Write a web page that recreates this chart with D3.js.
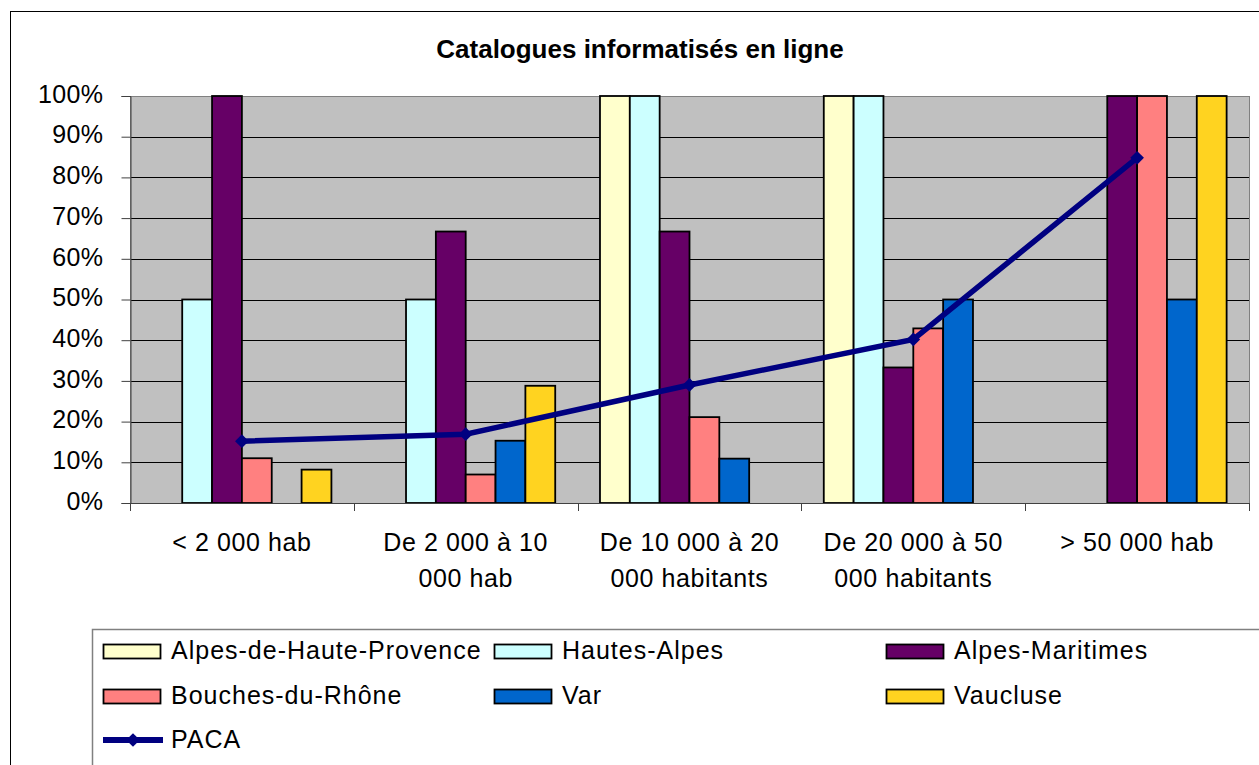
<!DOCTYPE html>
<html>
<head>
<meta charset="utf-8">
<script src="https://cdn.jsdelivr.net/npm/d3@7"></script>
<style>
  body { margin: 0; background: #fff; }
  svg { display: block; font-family: "Liberation Sans", Arial, sans-serif; }
</style>
</head>
<body>
<div id="chart"></div>
<script>
// data (percent)
var categories = ["< 2 000 hab", "De 2 000 à 10 000 hab", "De 10 000 à 20 000 habitants", "De 20 000 à 50 000 habitants", "> 50 000 hab"];
var categoryLines = [["< 2 000 hab"], ["De 2 000 à 10", "000 hab"], ["De 10 000 à 20", "000 habitants"], ["De 20 000 à 50", "000 habitants"], ["> 50 000 hab"]];
var seriesNames = ["Alpes-de-Haute-Provence", "Hautes-Alpes", "Alpes-Maritimes", "Bouches-du-Rhône", "Var", "Vaucluse"];
var seriesColors = ["#FFFFCC", "#CCFFFF", "#660066", "#FF8080", "#0066CC", "#FFD320"];
var alpesHauteProvence = [0, 0, 100, 100, 0];
var hautesAlpes = [50, 50, 100, 100, 0];
var alpesMaritimes = [100, 66.7, 66.7, 33.3, 100];
var bouchesDuRhone = [11, 7, 21.1, 42.9, 100];
var varDept = [0, 15.3, 10.9, 50, 50];
var vaucluse = [8.2, 28.8, 0, 0, 100];
var paca = [15.2, 16.9, 29, 40.2, 84.8];
var yTicks = [0, 10, 20, 30, 40, 50, 60, 70, 80, 90, 100];

var seriesValues = [alpesHauteProvence, hautesAlpes, alpesMaritimes, bouchesDuRhone, varDept, vaucluse];

var W = 1259, H = 765;
var plot = {left: 130, right: 1249, top: 96, bottom: 503};

var svg = d3.select("#chart").append("svg")
  .attr("width", W)
  .attr("height", H);

// outer chart frame
svg.append("rect")
  .attr("x", 10.5).attr("y", 11.5)
  .attr("width", 1270).attr("height", 800)
  .attr("fill", "#fff").attr("stroke", "#000").attr("stroke-width", 1);

svg.append("text")
  .attr("x", 640).attr("y", 58)
  .attr("text-anchor", "middle")
  .attr("font-size", "26px").attr("font-weight", "bold")
  .text("Catalogues informatisés en ligne");

var x0 = d3.scaleBand().domain(categories).range([plot.left, plot.right]).padding(0);
var x1 = d3.scaleBand().domain(seriesNames).range([0, x0.bandwidth()]).paddingInner(0).paddingOuter(0.75);
var y = d3.scaleLinear().domain([0, 100]).range([plot.bottom, plot.top]);

// plot background
svg.append("rect")
  .attr("x", plot.left).attr("y", plot.top)
  .attr("width", plot.right - plot.left).attr("height", plot.bottom - plot.top)
  .attr("fill", "#C0C0C0");

// gridlines
svg.append("g")
  .selectAll("line")
  .data(yTicks.filter(function(d){ return d > 0; }))
  .enter().append("line")
    .attr("x1", plot.left).attr("x2", plot.right)
    .attr("y1", function(d){ return Math.round(y(d)) + 0.5; })
    .attr("y2", function(d){ return Math.round(y(d)) + 0.5; })
    .attr("stroke", "#000").attr("stroke-width", 1);

// plot border
svg.append("rect")
  .attr("x", plot.left + 0.5).attr("y", plot.top + 0.5)
  .attr("width", plot.right - plot.left).attr("height", plot.bottom - plot.top)
  .attr("fill", "none").attr("stroke", "#808080").attr("stroke-width", 1);

// bars
var groups = svg.append("g")
  .selectAll("g")
  .data(categories)
  .enter().append("g")
    .attr("transform", function(d){ return "translate(" + x0(d) + ",0)"; });

groups.selectAll("rect")
  .data(function(c, i){
    return seriesNames.map(function(s, j){ return {s: s, v: seriesValues[j][i], color: seriesColors[j]}; })
      .filter(function(d){ return d.v > 0; });
  })
  .enter().append("rect")
    .attr("x", function(d){ return x1(d.s); })
    .attr("y", function(d){ return y(d.v); })
    .attr("width", x1.bandwidth())
    .attr("height", function(d){ return y(0) - y(d.v); })
    .attr("fill", function(d){ return d.color; })
    .attr("stroke", "#000").attr("stroke-width", 1.8);

// axes
var yAxis = svg.append("g")
  .attr("transform", "translate(" + (plot.left + 0.5) + ",0)")
  .call(d3.axisLeft(y).tickValues(yTicks).tickSize(9).tickPadding(18)
    .tickFormat(function(d){ return d + "%"; }));
yAxis.select(".domain").attr("stroke", "#404040");
yAxis.selectAll(".tick line").attr("stroke", "#404040");
yAxis.selectAll("text")
  .attr("font-size", "25px").attr("font-family", "Liberation Sans, Arial, sans-serif")
  .attr("fill", "#000").attr("dy", "0.25em").attr("letter-spacing", "0.4px");

var xAxis = svg.append("g");
xAxis.append("line")
  .attr("x1", plot.left).attr("x2", plot.right)
  .attr("y1", plot.bottom + 0.5).attr("y2", plot.bottom + 0.5)
  .attr("stroke", "#404040");
xAxis.selectAll("line.tk")
  .data(categories.concat(["end"]))
  .enter().append("line")
    .attr("class", "tk")
    .attr("x1", function(d){ return d === "end" ? plot.right + 0.5 : Math.round(x0(d)) + 0.5; })
    .attr("x2", function(d){ return d === "end" ? plot.right + 0.5 : Math.round(x0(d)) + 0.5; })
    .attr("y1", plot.bottom).attr("y2", plot.bottom + 8)
    .attr("stroke", "#404040");
xAxis.selectAll("text")
  .data(categories)
  .enter().append("text")
    .attr("x", function(d){ return x0(d) + x0.bandwidth() / 2; })
    .attr("y", 551)
    .attr("text-anchor", "middle")
    .attr("font-size", "25px").attr("letter-spacing", "0.6px")
    .each(function(d, i){
      var t = d3.select(this);
      categoryLines[i].forEach(function(line, k){
        t.append("tspan")
          .attr("x", x0(d) + x0.bandwidth() / 2)
          .attr("dy", k === 0 ? 0 : 36)
          .text(line);
      });
    });

// PACA line
var line = d3.line()
  .x(function(d, i){ return x0(categories[i]) + x0.bandwidth() / 2; })
  .y(function(d){ return y(d); });
svg.append("path")
  .datum(paca)
  .attr("d", line)
  .attr("fill", "none").attr("stroke", "#000080").attr("stroke-width", 5.5);
svg.append("g")
  .selectAll("path")
  .data(paca)
  .enter().append("path")
    .attr("d", d3.symbol().type(d3.symbolDiamond2).size(120))
    .attr("transform", function(d, i){ return "translate(" + (x0(categories[i]) + x0.bandwidth() / 2) + "," + y(d) + ")"; })
    .attr("fill", "#000080");

// legend
svg.append("rect")
  .attr("x", 92.5).attr("y", 629.5)
  .attr("width", 1200).attr("height", 200)
  .attr("fill", "#fff").attr("stroke", "#808080").attr("stroke-width", 1.5);

var colX = [103, 494, 886];
var rowBase = [659, 704, 748];
var legendItems = seriesNames.map(function(s, j){ return {name: s, color: seriesColors[j], col: j % 3, row: Math.floor(j / 3)}; });

var leg = svg.append("g").selectAll("g")
  .data(legendItems)
  .enter().append("g")
    .attr("transform", function(d){ return "translate(" + colX[d.col] + "," + rowBase[d.row] + ")"; });
leg.append("rect")
  .attr("x", 0.5).attr("y", -14.5)
  .attr("width", 57).attr("height", 14)
  .attr("fill", function(d){ return d.color; })
  .attr("stroke", "#000").attr("stroke-width", 1.8);
leg.append("text")
  .attr("x", 68).attr("y", 0)
  .attr("font-size", "25px").attr("letter-spacing", "1px")
  .text(function(d){ return d.name; });

var pacaLeg = svg.append("g").attr("transform", "translate(103," + rowBase[2] + ")");
pacaLeg.append("line")
  .attr("x1", 0).attr("x2", 60).attr("y1", -8).attr("y2", -8)
  .attr("stroke", "#000080").attr("stroke-width", 6);
pacaLeg.append("path")
  .attr("d", d3.symbol().type(d3.symbolDiamond2).size(120))
  .attr("transform", "translate(30,-8)")
  .attr("fill", "#000080");
pacaLeg.append("text")
  .attr("x", 68).attr("y", 0)
  .attr("font-size", "25px").attr("letter-spacing", "1px")
  .text("PACA");
</script>
</body>
</html>
